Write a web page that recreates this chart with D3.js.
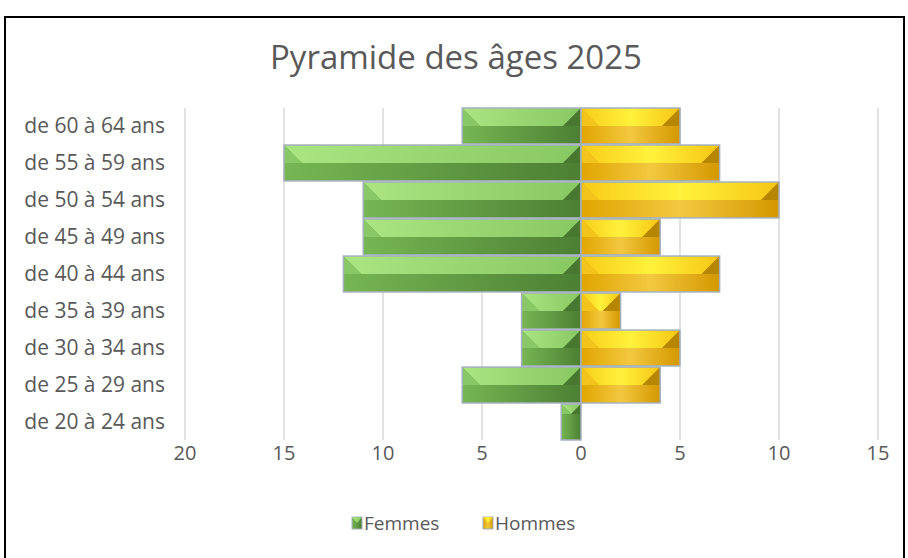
<!DOCTYPE html>
<html>
<head>
<meta charset="utf-8">
<script src="https://cdn.jsdelivr.net/npm/d3@7"></script>
<style>
  body { margin: 0; background: #fff; }
  text { font-family: "Open Sans", Lato, sans-serif; fill: #595959; }
</style>
</head>
<body>
<svg id="chart"></svg>
<script>
// Tranches d'âge (du haut vers le bas)
var ages = ["de 60 à 64 ans", "de 55 à 59 ans", "de 50 à 54 ans", "de 45 à 49 ans",
            "de 40 à 44 ans", "de 35 à 39 ans", "de 30 à 34 ans", "de 25 à 29 ans",
            "de 20 à 24 ans"];
var femmes = [6, 15, 11, 11, 12, 3, 3, 6, 1];
var hommes = [5, 7, 10, 4, 7, 2, 5, 4, 0];
var ticks = [-20, -15, -10, -5, 0, 5, 10, 15];
var seriesNames = ["Femmes", "Hommes"];

var width = 908, height = 558;
var plot = { left: 185, right: 878, top: 108, bottom: 440 };

var svg = d3.select("#chart").attr("width", width).attr("height", height);

svg.append("rect").attr("width", width).attr("height", height).attr("fill", "white");
svg.append("rect")
    .attr("x", 5).attr("y", 17).attr("width", 899).attr("height", 560)
    .attr("fill", "none").attr("stroke", "black").attr("stroke-width", 2);

var x = d3.scaleLinear().domain([-20, 15]).range([plot.left, plot.right]);
var y = d3.scaleBand().domain(ages).range([plot.top, plot.bottom]).paddingInner(0.03);

// Gradients for the bevelled bars
var defs = svg.append("defs");
function grad(id, stops) {
    var g = defs.append("linearGradient").attr("id", id)
        .attr("x1", "0%").attr("x2", "100%").attr("y1", "0%").attr("y2", "0%");
    stops.forEach(function (s) {
        g.append("stop").attr("offset", s[0]).attr("stop-color", s[1]);
    });
}
grad("fTop", [["0%", "#aae582"], ["100%", "#88c862"]]);
grad("fLow", [["0%", "#76b653"], ["100%", "#4c7f33"]]);
grad("hTop", [["0%", "#f8cc18"], ["50%", "#fff23c"], ["100%", "#f6c614"]]);
grad("hLow", [["0%", "#e0a500"], ["50%", "#f3c840"], ["100%", "#d49800"]]);

var styles = {
    Femmes: { top: "url(#fTop)", low: "url(#fLow)", left: "#88c866", right: "#487830" },
    Hommes: { top: "url(#hTop)", low: "url(#hLow)", left: "#f2c41c", right: "#b78600" }
};

// Gridlines
svg.append("g").selectAll("line")
    .data(ticks.filter(function (t) { return t !== 0; }))
    .enter().append("line")
    .attr("x1", function (d) { return x(d); }).attr("x2", function (d) { return x(d); })
    .attr("y1", plot.top).attr("y2", plot.bottom)
    .attr("stroke", "#d9d9d9").attr("stroke-width", 1.5);

// Bars
var bars = [];
ages.forEach(function (a, i) {
    bars.push({ age: a, serie: "Femmes", v0: -femmes[i], v1: 0 });
    if (hommes[i] > 0) bars.push({ age: a, serie: "Hommes", v0: 0, v1: hommes[i] });
});

var g = svg.append("g").selectAll("g").data(bars).enter().append("g");
g.each(function (d) {
    var el = d3.select(this);
    var x0 = x(d.v0), x1 = x(d.v1), y0 = y(d.age), h = y.bandwidth();
    var w = x1 - x0;
    var b = Math.min(h * 0.5, w / 2);
    var st = styles[d.serie];
    el.append("rect").attr("x", x0).attr("y", y0).attr("width", w).attr("height", h).attr("fill", st.low);
    el.append("polygon")
        .attr("points", [[x0, y0], [x1, y0], [x1 - b, y0 + b], [x0 + b, y0 + b]].join(" "))
        .attr("fill", st.top);
    el.append("polygon")
        .attr("points", [[x0, y0], [x0 + b, y0 + b], [x0, y0 + b]].join(" "))
        .attr("fill", st.left);
    el.append("polygon")
        .attr("points", [[x1, y0], [x1, y0 + b], [x1 - b, y0 + b]].join(" "))
        .attr("fill", st.right);
    el.append("rect").attr("x", x0).attr("y", y0).attr("width", w).attr("height", h)
        .attr("fill", "none").attr("stroke", "#a5b1bf").attr("stroke-width", 1.5);
});

// Category labels
svg.append("g").selectAll("text").data(ages).enter().append("text")
    .attr("x", 165).attr("y", function (d) { return y(d) + y.bandwidth() / 2; })
    .attr("dy", "0.35em").attr("text-anchor", "end")
    .attr("font-size", 21).text(function (d) { return d; });

// Value axis labels
svg.append("g").selectAll("text").data(ticks).enter().append("text")
    .attr("x", function (d) { return x(d); }).attr("y", 453).attr("dy", "0.35em")
    .attr("text-anchor", "middle").attr("font-size", 20)
    .text(function (d) { return Math.abs(d); });

// Title
svg.append("text").attr("x", 456).attr("y", 57).attr("dy", "0.35em")
    .attr("text-anchor", "middle").attr("font-size", 33)
    .text("Pyramide des âges 2025");

// Legend
var legendX = [352, 483];
var lg = svg.append("g").selectAll("g").data(seriesNames).enter().append("g")
    .attr("transform", function (d, i) { return "translate(" + legendX[i] + ",517)"; });
lg.append("rect").attr("width", 10).attr("height", 12)
    .attr("fill", function (d) { return styles[d].low; })
    .attr("stroke", "#a5b1bf").attr("stroke-width", 1);
lg.append("polygon").attr("points", "0,0 10,0 5,6")
    .attr("fill", function (d) { return styles[d].top; });
lg.append("text").attr("x", 12).attr("y", 6).attr("dy", "0.35em")
    .attr("font-size", 19).text(function (d) { return d; });
</script>
</body>
</html>
